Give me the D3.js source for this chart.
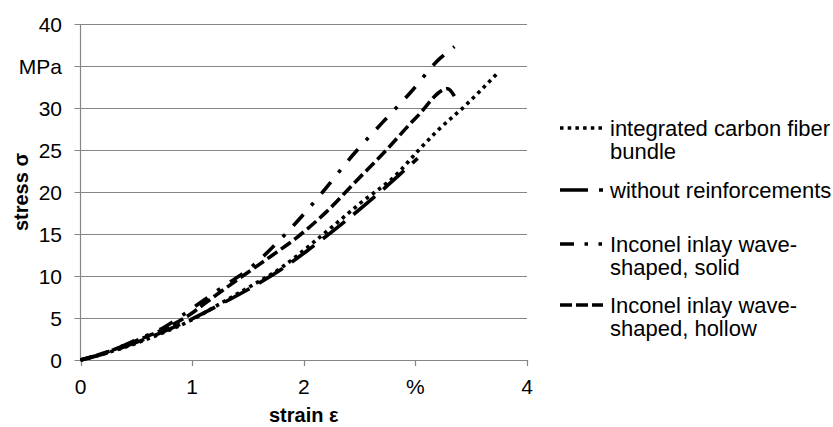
<!DOCTYPE html>
<html>
<head>
<meta charset="utf-8">
<script src="https://cdn.jsdelivr.net/npm/d3@7"></script>
<style>
    body { margin: 0; background: #fff; }
    svg text { font-family: "Liberation Sans", Arial, sans-serif; fill: #000; }
</style>
</head>
<body>
<svg id="chart" width="833" height="427"></svg>
<script>

// strain in %, stress in MPa
const carbonFiber = [[0, 0], [0.25, 0.9], [0.5, 2.0], [0.75, 3.3], [1.0, 4.8], [1.25, 6.7], [1.5, 8.6], [1.8, 11.0],
    [2.05, 13.6], [2.25, 15.8], [2.5, 18.6], [2.84, 22.2], [3.01, 24.7], [3.19, 27.2], [3.44, 30.2], [3.74, 34.2]];
const withoutReinf = [[0, 0], [0.25, 0.9], [0.5, 2.1], [0.75, 3.4], [1.0, 4.9], [1.25, 6.6], [1.5, 8.4], [1.8, 10.8],
    [2.05, 13.2], [2.35, 16.3], [2.65, 19.6], [2.92, 22.8], [3.02, 24.0]];
const inconelSolid = [[0, 0], [0.25, 1.0], [0.5, 2.4], [0.75, 3.9], [0.92, 5.4], [1.23, 8.3], [1.55, 11.3], [1.83, 14.9],
    [2.17, 20.0], [2.44, 24.4], [2.70, 28.2], [2.95, 31.75], [3.22, 35.9], [3.35, 37.3]];
const inconelHollow = [[0, 0], [0.25, 1.0], [0.5, 2.3], [0.75, 3.7], [1.0, 5.6], [1.1, 6.6], [1.4, 9.5], [1.7, 12.3],
    [1.94, 14.6], [2.2, 17.6], [2.44, 20.9], [2.74, 25.0], [3.01, 28.9], [3.29, 32.3], [3.35, 31.4]];

const seriesNames = [["integrated carbon fiber", "bundle"], ["without reinforcements"],
    ["Inconel inlay wave-", "shaped, solid"], ["Inconel inlay wave-", "shaped, hollow"]];

const yTicks = [0, 5, 10, 15, 20, 25, 30, 35, 40];
const yTickLabels = ["0", "5", "10", "15", "20", "25", "30", "MPa", "40"];
const xTicks = [0, 1, 2, 3, 4];
const xTickLabels = ["0", "1", "2", "%", "4"];


class StressChart {

    constructor(svg_element_id) {
        this.svg = d3.select('#' + svg_element_id);
        this.grid = "#868686";
    }

    draw() {
        const x = d3.scaleLinear().domain([0, 4]).range([80.5, 527]);
        const y = d3.scaleLinear().domain([0, 40]).range([360, 24]);
        const svg = this.svg;

        // horizontal gridlines (Excel style)
        svg.append("g")
            .selectAll("line")
            .data(yTicks)
            .enter().append("line")
            .attr("x1", x(0) - 6).attr("x2", x(4))
            .attr("y1", d => Math.round(y(d)) + 0.5).attr("y2", d => Math.round(y(d)) + 0.5)
            .attr("stroke", this.grid)
            .attr("stroke-width", 1.2);

        // y axis
        svg.append("line")
            .attr("x1", x(0)).attr("x2", x(0))
            .attr("y1", y(40)).attr("y2", y(0))
            .attr("stroke", this.grid).attr("stroke-width", 1.2);

        // x axis ticks
        svg.append("g")
            .selectAll("line")
            .data(xTicks)
            .enter().append("line")
            .attr("x1", d => Math.round(x(d)) + 0.5).attr("x2", d => Math.round(x(d)) + 0.5)
            .attr("y1", y(0)).attr("y2", y(0) + 6)
            .attr("stroke", this.grid).attr("stroke-width", 1.2);

        svg.append("g")
            .selectAll("text")
            .data(yTicks)
            .enter().append("text")
            .attr("x", 62)
            .attr("y", d => y(d) + 7.5)
            .attr("text-anchor", "end")
            .style("font-size", "21px")
            .text((d, i) => yTickLabels[i]);

        svg.append("g")
            .selectAll("text")
            .data(xTicks)
            .enter().append("text")
            .attr("x", d => x(d))
            .attr("y", 394)
            .attr("text-anchor", "middle")
            .style("font-size", "21px")
            .text((d, i) => xTickLabels[i]);

        svg.append("text")
            .attr("x", (x(0) + x(4)) / 2)
            .attr("y", 422)
            .attr("text-anchor", "middle")
            .style("font-size", "20px")
            .style("font-weight", "bold")
            .text("strain ε");

        svg.append("text")
            .attr("transform", "translate(28," + (y(0) + y(40)) / 2 + ") rotate(-90)")
            .attr("text-anchor", "middle")
            .style("font-size", "20px")
            .style("font-weight", "bold")
            .text("stress σ");

        // the four curves
        const series = [
            {data: carbonFiber, dash: "3.5,4.2", legendDash: "3.5,4.2"},
            {data: withoutReinf, dash: "28,11", legendDash: "28,11"},
            {data: inconelSolid, dash: "15,12,3.5,12", legendDash: "14,10.5,3.5,10.5,3.5,10.5"},
            {data: inconelHollow, dash: "12,4.5", legendDash: "12,4"},
        ];

        const line = d3.line()
            .x(d => x(d[0]))
            .y(d => y(d[1]))
            .curve(d3.curveMonotoneX);

        svg.append("g")
            .selectAll("path")
            .data(series)
            .enter().append("path")
            .attr("d", d => line(d.data))
            .attr("fill", "none")
            .attr("stroke", "#000")
            .attr("stroke-width", 3.6)
            .attr("stroke-dasharray", d => d.dash);

        // legend
        const legendY = [128, 190, 244, 305];
        const legend = svg.append("g")
            .selectAll("g")
            .data(series)
            .enter().append("g")
            .attr("transform", (d, i) => "translate(0," + legendY[i] + ")");

        legend.append("line")
            .attr("x1", 560).attr("x2", 603)
            .attr("y1", 0).attr("y2", 0)
            .attr("stroke", "#000")
            .attr("stroke-width", 3.6)
            .attr("stroke-dasharray", d => d.legendDash);

        legend.each(function(d, i) {
            d3.select(this).selectAll("text")
                .data(seriesNames[i])
                .enter().append("text")
                .attr("x", 610)
                .attr("y", (t, j) => 8 + j * 23)
                .style("font-size", "22px")
                .text(t => t);
        });
    }
}


function whenDocumentLoaded(action) {
    if (document.readyState === "loading") {
        document.addEventListener("DOMContentLoaded", action);
    } else {
        action();
    }
}

whenDocumentLoaded(() => {
    const chart = new StressChart('chart');
    chart.draw();
});
</script>
</body>
</html>
